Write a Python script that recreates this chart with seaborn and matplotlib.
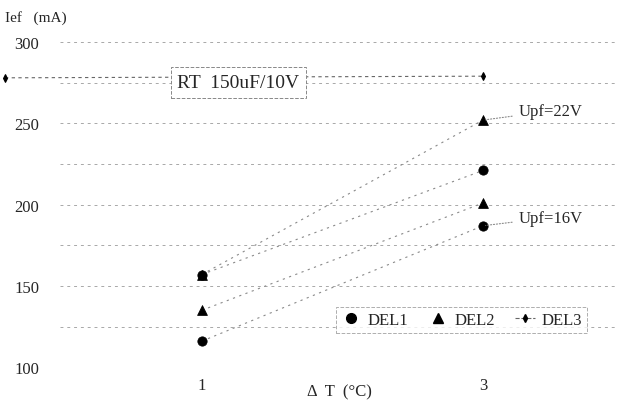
import matplotlib
matplotlib.use("Agg")
import matplotlib.pyplot as plt
import seaborn as sns
from matplotlib.lines import Line2D

# data
delta_t = [1, 3]
del1_16v = [116, 187]
del1_22v = [157, 221]
del2_16v = [135, 201]
del2_22v = [157, 252]
rt_x = [-0.4, 3]
rt_y = [278, 279]
y_ticks = [100, 150, 200, 250, 300]
grid_levels = [100, 125, 150, 175, 200, 225, 250, 275, 300]

sns.set_style("white")
plt.rcParams['font.family'] = ['Liberation Serif', 'DejaVu Serif']

fig = plt.figure(figsize=(6.17, 4.10), dpi=100)
ax = fig.add_axes([0.097, 0.102, 0.9, 0.793])

for lvl in grid_levels:
    ax.axhline(lvl, color='#a8a8a8', lw=0.7, ls=(0, (3, 4)), zorder=0)

# connecting dotted lines
for ys in [del1_16v, del1_22v, del2_16v, del2_22v]:
    sns.lineplot(x=delta_t, y=ys, ax=ax, color='#8a8a8a', lw=0.8,
                 linestyle=(0, (2, 4)), zorder=1)

# reference line RT 150uF/10V
sns.lineplot(x=rt_x, y=rt_y, ax=ax, color='#666666', lw=0.8,
             linestyle=(0, (3, 3)), marker='d', markersize=4,
             markeredgecolor='black', markerfacecolor='black', zorder=1)
ax.lines[-1].set_clip_on(False)

sns.scatterplot(x=delta_t * 2, y=del1_16v + del1_22v, ax=ax, marker='o',
                s=45, color='black', edgecolor='black', zorder=3)
sns.scatterplot(x=delta_t * 2, y=del2_16v + del2_22v, ax=ax, marker='^',
                s=50, color='black', edgecolor='black', zorder=3)

ax.set_xlim(-0.01, 3.94)
ax.set_ylim(100, 300)
ax.set_xticks([1, 3])
ax.set_xticklabels(['1', '3'])
ax.set_yticks(y_ticks)
ax.tick_params(axis='both', length=0, labelsize=12)
ax.tick_params(axis='y', pad=15)
ax.tick_params(axis='x', pad=7)
for sp in ax.spines.values():
    sp.set_visible(False)
ax.set_xlabel('')
ax.set_ylabel('')

ax.text(1.26, 275, 'RT  150uF/10V', fontsize=14, ha='center', va='center',
        bbox=dict(boxstyle='square,pad=0.35', facecolor='white',
                  edgecolor='#888888', linestyle='--', linewidth=0.7),
        zorder=4)

ax.annotate('Upf=22V', xy=(3, 252), xytext=(3.25, 257.5), fontsize=12,
            va='center', arrowprops=dict(arrowstyle='-', color='#888888',
                                         lw=0.8, linestyle=':'))
ax.annotate('Upf=16V', xy=(3, 187), xytext=(3.25, 192), fontsize=12,
            va='center', arrowprops=dict(arrowstyle='-', color='#888888',
                                         lw=0.8, linestyle=':'))

handles = [
    Line2D([], [], color='black', marker='o', ls='none', markersize=7),
    Line2D([], [], color='black', marker='^', ls='none', markersize=7),
    Line2D([], [], color='#666666', marker='d', ls='--', lw=0.8,
           markersize=4, markerfacecolor='black', markeredgecolor='black'),
]
leg = ax.legend(handles, ['DEL1', 'DEL2', 'DEL3'], ncol=3, fontsize=12,
                loc='lower right', bbox_to_anchor=(0.965, 0.08),
                handlelength=1.2, handletextpad=0.4, columnspacing=1.2,
                frameon=True, fancybox=False, borderpad=0.3)
leg.get_frame().set_linestyle('--')
leg.get_frame().set_edgecolor('#999999')
leg.get_frame().set_linewidth(0.7)

fig.text(0.008, 0.955, 'Ief   (mA)', fontsize=11, ha='left', va='center')
fig.text(0.55, 0.042, 'Δ  T  (°C)', fontsize=12, ha='center', va='center')

fig.savefig('out.png', dpi=100, facecolor='white')
